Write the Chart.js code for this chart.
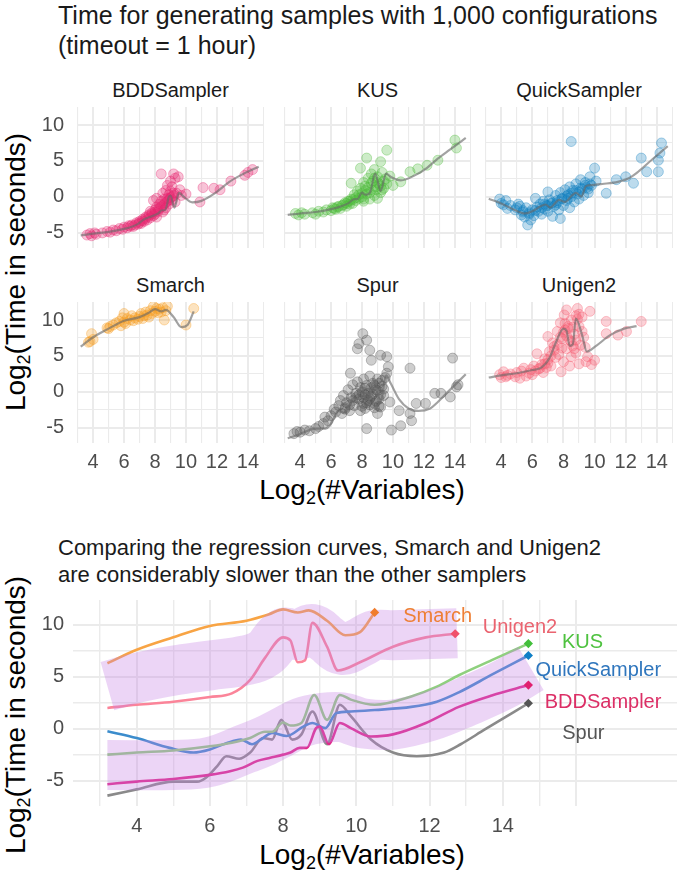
<!DOCTYPE html>
<html><head><meta charset="utf-8">
<script src="https://cdn.jsdelivr.net/npm/chart.js@4.4.1/dist/chart.umd.min.js"></script>
<style>
html,body{margin:0;padding:0;background:#fff;}
body{width:685px;height:870px;position:relative;overflow:hidden;font-family:"Liberation Sans",Arial,sans-serif;color:#1a1a1a;}
.title{position:absolute;left:58px;white-space:nowrap;color:#1a1a1a;}
.strip{position:absolute;font-size:20px;line-height:24px;text-align:center;color:#1a1a1a;white-space:nowrap;}
.axt{position:absolute;font-size:28px;line-height:32px;white-space:nowrap;color:#000;}
.axt sub{font-size:18px;vertical-align:-5px;line-height:0;}
canvas{position:absolute;}
</style></head><body>
<div class="title" style="top:0px;font-size:25px;line-height:30px;">Time for generating samples with 1,000 configurations<br>(timeout = 1 hour)</div>
<div class="title" style="top:534px;font-size:22px;line-height:27px;">Comparing the regression curves, Smarch and Unigen2<br>are considerably slower than the other samplers</div>
<div id="strips"></div>
<div class="axt" style="left:362px;top:474px;transform:translateX(-50%);">Log<sub>2</sub>(#Variables)</div>
<div class="axt" style="left:362px;top:839px;transform:translateX(-50%);">Log<sub>2</sub>(#Variables)</div>
<div class="axt" style="left:16px;top:272px;transform:translate(-50%,-50%) rotate(-90deg);">Log<sub>2</sub>(Time in seconds)</div>
<div class="axt" style="left:16px;top:715px;transform:translate(-50%,-50%) rotate(-90deg);">Log<sub>2</sub>(Time in seconds)</div>
<canvas id="p0"></canvas><canvas id="p1"></canvas><canvas id="p2"></canvas>
<canvas id="p3"></canvas><canvas id="p4"></canvas><canvas id="p5"></canvas>
<canvas id="pb"></canvas>
<script>
// ---------------- data ----------------
const samplers = ['BDDSampler','KUS','QuickSampler','Smarch','Spur','Unigen2'];

// tick / grid values
const facetGridX = [3,4,5,6,7,8,9,10,11,12,13,14,15];
const facetGridY = [-5,-2.5,0,2.5,5,7.5,10];
const bottomGridX = [3,4,5,6,7,8,9,10,11,12,13,14,15,16];
const bottomGridY = [-5,-2.5,0,2.5,5,7.5,10];
const xTickLabels = [4,6,8,10,12,14];
const yTickLabels = [-5,0,5,10];

// scatter observations (log2 #variables, log2 seconds)
const bddX = [3.6,3.8,3.9,4.1,4.2,4.6,4.9,5.1,5.3,5.5,5.7,5.9,6.0,6.2,6.3,6.5,6.6,6.8,6.9,7.0,7.1,7.2,7.3,7.4,7.5,7.6,7.7,7.8,7.9,7.9,8.0,8.0,8.1,8.1,8.2,8.3,8.3,8.4,8.4,8.5,8.5,8.6,8.6,8.7,8.7,8.8,8.8,8.9,8.9,9.0,9.0,9.1,9.1,9.2,9.2,9.3,9.3,9.4,9.5,9.6,9.7,10.0,10.9,11.1,11.8,12.2,12.9,13.8,14.0,14.3,
  6.4,6.7,7.0,7.2,7.4,7.6,7.8,8.0,8.2,8.4,8.6,8.8,9.0,9.2,8.5,8.7,8.9,9.1,7.7,8.1];
const bddY = [-5.3,-5.1,-5.4,-5.0,-5.2,-5.0,-4.8,-4.9,-4.6,-4.7,-4.4,-4.5,-4.2,-4.3,-4.0,-3.9,-4.1,-3.6,-3.8,-3.4,-3.7,-3.1,-3.4,-2.8,-3.2,-2.5,-2.9,-2.2,-2.6,-0.5,-1.8,-2.4,-0.2,-1.4,-2.0,-1.0,-1.6,3.2,-0.6,-1.2,0.5,-0.3,-1.8,0.9,-0.8,1.6,-0.2,0.3,-1.0,2.2,0.8,-0.4,1.4,3.2,0.2,-0.7,2.6,0.5,2.8,1.0,0.2,0.4,-0.7,1.3,1.2,1.0,2.2,3.0,3.4,3.8,
  -4.1,-3.9,-3.6,-3.3,-3.0,-2.7,-2.4,-2.1,-1.7,-1.4,-1.0,-0.6,-0.1,0.5,-2.1,-1.5,-0.4,0.0,-2.0,-2.8];

const kusX = [3.7,3.9,4.1,4.3,4.8,5.0,5.2,5.5,5.7,6.0,6.1,6.3,6.5,6.6,6.8,6.9,7.0,7.1,7.2,7.3,7.3,7.4,7.5,7.6,7.7,7.8,7.9,7.9,8.0,8.1,8.1,8.2,8.3,8.3,8.4,8.5,8.6,8.6,8.7,8.8,8.8,8.9,9.0,9.0,9.1,9.2,9.2,9.3,9.4,9.5,9.6,9.6,9.8,10.0,10.5,11.1,11.6,12.2,12.9,14.0,14.1,
  6.2,6.4,6.7,7.0,7.2,7.4,7.6,7.8,8.0,8.2,8.4,8.6,8.8,9.0,9.2,9.4,8.1,8.5,8.9,9.3];
const kusY = [-2.3,-2.5,-2.2,-2.4,-2.2,-2.4,-2.0,-2.1,-1.8,-1.9,-1.5,-1.7,-1.3,-1.6,-1.1,-0.8,-1.3,-0.6,-1.0,1.9,-0.3,-0.9,0.3,-0.5,0.8,-0.2,4.0,1.2,0.0,2.0,-0.6,1.5,5.4,0.4,2.6,-0.3,1.0,3.2,2.2,0.2,3.8,1.4,2.8,-0.2,1.8,4.9,0.6,3.4,1.2,2.5,6.5,1.8,2.9,1.6,2.1,3.5,3.9,4.4,5.1,7.9,6.8,
  -1.6,-1.4,-1.2,-0.9,-0.6,-0.4,-0.1,0.3,0.5,0.9,1.3,1.9,2.6,2.0,1.5,2.2,-0.3,0.6,1.0,1.0];

const quickX = [3.9,4.0,4.15,4.3,4.4,4.6,4.9,5.1,5.2,5.3,5.4,5.5,5.6,5.7,5.8,5.9,6.0,6.1,6.2,6.3,6.4,6.5,6.6,6.7,6.8,6.9,7.0,7.0,7.1,7.2,7.3,7.4,7.5,7.6,7.7,7.8,7.8,7.9,8.0,8.1,8.2,8.3,8.4,8.4,8.5,8.5,8.6,8.7,8.8,8.9,9.0,9.1,9.2,9.3,9.4,9.5,9.6,9.7,9.8,10.0,10.1,10.75,11.4,12.0,12.5,13.0,13.35,14.1,14.1,14.2,14.3,
  5.0,5.4,5.8,6.2,6.6,7.0,7.3,7.6,7.9,8.2,8.5,8.8,9.1,9.4,9.7,6.8,7.5,8.3,9.0,9.6];
const quickY = [-0.3,-0.9,-1.1,-0.5,-1.6,-1.2,-1.8,-1.0,-1.3,-2.5,-1.9,-2.8,-1.5,-3.9,-2.2,-3.2,-1.8,-2.6,-0.2,-1.4,-2.0,-1.0,-2.4,-0.6,-1.7,-1.2,0.7,-2.0,-0.4,-0.9,-2.7,-1.3,0.2,-0.8,-1.8,-3.0,0.6,-0.2,-1.2,1.0,-0.5,0.3,1.4,-1.5,7.7,0.0,0.9,-0.7,1.8,0.4,-0.3,2.4,1.1,0.2,2.0,1.3,0.6,2.8,1.6,4.0,2.2,0.5,2.4,2.8,1.9,5.4,3.5,3.5,5.1,6.1,7.5,
  -1.5,-2.1,-2.4,-1.9,-1.5,-1.2,-0.8,-0.5,-0.3,0.1,0.5,0.9,1.2,1.6,1.8,-1.0,-1.1,-0.2,0.7,1.1];

const smarchX = [3.7,3.8,3.9,4.0,4.9,5.0,5.1,5.3,5.5,5.7,5.8,5.9,6.0,6.0,6.1,6.2,6.4,6.5,6.6,6.7,6.9,7.0,7.1,7.2,7.3,7.4,7.5,7.6,7.7,7.8,7.9,8.0,8.1,8.2,8.3,8.4,8.5,8.6,8.7,8.8,10.0,10.5];
const smarchY = [6.9,7.0,8.1,7.3,8.9,8.8,9.1,9.3,9.6,9.8,9.2,10.3,10.9,9.7,9.5,10.2,10.0,10.6,9.9,10.3,10.1,10.5,10.9,10.2,10.6,11.1,10.7,10.4,11.3,10.9,11.9,11.2,11.6,11.0,11.5,11.1,11.7,10.0,11.3,11.9,9.3,11.6];

const spurX = [3.6,3.8,4.0,4.3,4.6,5.0,5.2,5.5,5.6,5.8,6.0,6.2,6.3,6.5,6.6,6.7,6.8,6.9,7.0,7.1,7.2,7.25,7.3,7.4,7.5,7.6,7.7,7.7,7.8,7.8,7.9,8.0,8.05,8.1,8.1,8.2,8.3,8.3,8.3,8.4,8.5,8.5,8.6,8.6,8.7,8.8,8.9,9.0,9.0,9.1,9.2,9.2,9.3,9.4,9.5,9.6,9.6,9.7,9.8,9.9,10.4,10.5,11.1,11.1,11.2,11.5,12.1,12.7,13.1,13.7,13.85,14.1,14.2,
  6.9,7.2,7.4,7.6,7.8,8.0,8.1,8.2,8.3,8.4,8.5,8.6,8.7,8.8,8.9,9.0,9.1,9.2,9.3,9.4,7.9,8.2,8.5,8.8,9.1];
const spurY = [-5.8,-5.5,-5.6,-5.3,-5.4,-5.1,-4.8,-4.4,-3.5,-4.0,-3.3,-2.4,-2.8,-1.9,-1.2,-3.0,-0.5,-2.2,-1.5,0.3,-2.6,2.6,-0.8,1.0,-1.9,-0.2,6.0,1.4,6.7,-1.0,0.6,-2.0,8.1,-1.6,1.8,-0.4,7.2,-5.1,0.9,-1.2,5.8,2.2,4.4,-0.6,1.2,-2.2,0.3,-3.0,1.8,-1.0,5.1,-2.1,0.8,-0.5,2.0,4.9,2.6,3.5,-1.4,-5.3,-2.6,-4.7,3.3,-3.0,-4.0,-1.6,-1.6,-0.2,-0.2,-0.7,4.7,0.7,1.0,
  -2.4,-1.8,-1.2,-0.8,-0.4,0.0,-0.8,0.5,-1.5,-0.2,-0.9,0.6,-0.3,0.9,-1.3,0.2,1.2,-0.4,1.6,0.4,-2.6,-2.3,-1.8,-1.6,-2.0];

const unigenX = [3.9,4.0,4.15,4.3,4.4,4.6,4.9,5.0,5.2,5.3,5.45,5.6,5.8,5.9,6.0,6.1,6.2,6.3,6.4,6.6,6.7,6.8,6.9,7.0,7.0,7.1,7.2,7.3,7.4,7.5,7.6,7.7,7.8,7.85,7.9,8.0,8.05,8.1,8.2,8.2,8.3,8.4,8.4,8.5,8.5,8.6,8.7,8.8,8.8,8.9,9.0,9.0,9.1,9.2,9.3,9.45,9.55,9.7,9.8,10.0,10.75,10.75,11.5,12.05,13.0,
  6.5,6.8,7.0,7.2,7.4,7.6,7.8,8.0,8.1,8.3,8.5,8.7,8.9,9.0,9.2,8.2,8.6,8.8,7.9,9.4];
const unigenY = [2.4,2.0,2.8,2.1,2.3,2.5,2.1,2.7,1.9,2.9,3.3,2.2,2.6,3.1,2.4,3.6,2.9,5.3,3.2,3.8,2.7,4.6,3.4,7.7,4.0,5.6,3.6,6.8,6.3,4.8,8.4,5.2,9.6,2.8,7.4,4.2,10.7,8.6,11.4,6.0,9.1,3.6,7.2,4.9,10.0,6.4,8.0,5.4,10.6,11.6,9.1,3.9,6.5,10.4,7.6,4.2,4.9,11.2,3.8,4.4,9.8,8.1,7.9,8.4,9.8,
  3.3,3.9,4.5,5.0,5.8,6.6,7.6,8.3,9.5,8.8,7.0,6.0,10.1,10.8,8.4,7.8,9.0,7.2,6.1,6.2];

// regression curves (loess fits)
const bddCurveX = [3.2,4,5,6,6.55,6.9,7.3,7.65,8,8.2,8.45,8.65,8.9,9.0,9.25,9.55,9.85,10.4,11,11.9,12.8,13.7,14.7];
const bddCurveY = [-5.35,-5.1,-4.85,-4.45,-4.1,-3.75,-3.1,-2.8,-2.5,-2.3,-1.85,-1.85,0.05,0.2,-1.5,0.55,0.05,-0.75,-0.55,0.55,2.1,3.2,4.2];
const kusCurveX = [3.2,4,5,6,6.6,7.1,7.5,7.7,8.0,8.2,8.5,8.85,9.2,9.55,9.85,10.5,11.5,12.2,12.8,13.7,14.7];
const kusCurveY = [-2.5,-2.3,-2.1,-1.7,-1.35,-0.9,-0.3,-0.3,0.6,0.3,0.55,3.25,0.85,3.25,2.8,2.3,3.1,4.05,5.15,6.6,8.2];
const quickCurveX = [3.2,4,4.9,5.55,6,6.45,6.85,7.15,7.45,7.7,8.1,8.55,8.8,9.15,9.45,9.85,10.5,11.5,12.2,12.8,13.7,14.7];
const quickCurveY = [-0.25,-0.9,-1.85,-2.3,-2.0,-1.4,-1.05,-1.5,-0.9,-0.4,-0.7,0.2,0.55,0.05,1.5,1.65,1.8,2.1,2.6,3.5,5.2,7.05];
const smarchCurveX = [3.2,4,5,6,7,7.6,8,8.4,8.7,9.2,9.7,10.1,10.5];
const smarchCurveY = [6.3,7.6,8.8,9.9,10.4,11.0,11.5,11.2,11.4,10.4,9.0,9.3,11.2];
const spurCurveX = [3.2,4,5,5.65,5.9,6.2,6.45,6.8,7.1,7.45,7.7,7.95,8.25,8.5,8.8,9.2,9.55,9.85,10.4,11,11.65,12.4,12.85,13.5,14.7];
const spurCurveY = [-6.45,-5.85,-5.1,-5.1,-4.7,-3.6,-2.65,-2.9,-2.3,-0.9,-1.05,0.85,-1.05,-0.55,1.65,-1.5,2.3,1.2,-1.05,-2.3,-2.65,-2.3,-1.5,-0.1,2.45];
const unigenCurveX = [3.2,4,5,6,6.6,7.1,7.5,8.0,8.2,8.4,8.6,8.8,9.2,9.5,10.1,11,11.9,12.7];
const unigenCurveY = [2.0,2.3,2.6,3.05,3.4,4.7,6.8,8.8,8.5,6.4,6.6,10.2,7.9,5.6,6.4,7.9,8.8,9.15];

// highlighted bands (centre lines of the two groups)
const slowBandX = [3.2,4,5,6,7,7.5,8,8.4,8.8,9.2,9.6,10.1,10.5,11,11.8,12.75];
const slowBandY = [4.1,4.9,5.6,6.1,6.6,7.3,9.2,9.0,9.6,8.6,7.6,8.3,9.0,9.0,9.1,9.2];
const fastBandX = [3.2,5,6,7,7.5,8,8.5,9,9.6,10.2,11,12,13,14,14.77];
const fastBandY = [-3.5,-3.5,-3.2,-1.9,-1.2,-0.3,0.6,1.0,1.1,0.5,0.4,1.2,2.6,4.2,5.8];

// direct labels in the comparison plot
const labelX = [16.74,16.18,16.61,12.22,16.2,14.47];
const labelY = [2.55,8.34,5.57,10.82,-0.48,9.77];

// ---------------- styling ----------------
const FONT = '"Liberation Sans", Arial, sans-serif';
const pointColor = {BDDSampler:[230,38,110],KUS:[77,186,56],QuickSampler:[14,126,190],Smarch:[245,155,30],Spur:[80,80,80],Unigen2:[245,90,110]};
const lineColor = {BDDSampler:'#e0288a',KUS:'#8fd07e',QuickSampler:'#3b8ccc',Smarch:'#f8a444',Spur:'#8a8a8a',Unigen2:'#fb8499'};
const endColor = {BDDSampler:'#e0206e',KUS:'#42bf3a',QuickSampler:'#0e7fc6',Smarch:'#f07c2c',Spur:'#555555',Unigen2:'#f0506a'};
const textColor = {BDDSampler:'#dc2f66',KUS:'#4ec23f',QuickSampler:'#2f76bd',Smarch:'#ee7f35',Spur:'#555555',Unigen2:'#ea6470'};
const gridColor = '#ebebeb';

const obs = {BDDSampler:[bddX,bddY],KUS:[kusX,kusY],QuickSampler:[quickX,quickY],Smarch:[smarchX,smarchY],Spur:[spurX,spurY],Unigen2:[unigenX,unigenY]};
const curves = {BDDSampler:[bddCurveX,bddCurveY],KUS:[kusCurveX,kusCurveY],QuickSampler:[quickCurveX,quickCurveY],Smarch:[smarchCurveX,smarchCurveY],Spur:[spurCurveX,spurCurveY],Unigen2:[unigenCurveX,unigenCurveY]};
const zip = (xs,ys) => xs.map((x,i)=>({x:x,y:ys[i]}));
const rgba = (c,a) => `rgba(${c[0]},${c[1]},${c[2]},${a})`;
const noPadX = sc => { sc.paddingLeft = 0; sc.paddingRight = 0; };
const noPadY = sc => { sc.paddingTop = 0; sc.paddingBottom = 0; };

// ---------------- facet panels ----------------
const colLeft = [77,284,485], colW = [187,187,188], rowTop = [107,302], panelH = 141;
const yAxisW = 47, xAxisH = 32;
const strips = document.getElementById('strips');

samplers.forEach((name, i) => {
  const col = i % 3, row = Math.floor(i / 3);
  const showY = col === 0, showX = row === 1;
  const cv = document.getElementById('p' + i);
  const left = showY ? colLeft[col] - yAxisW : colLeft[col];
  const w = colW[col] + (showY ? yAxisW : 0);
  const h = panelH + (showX ? xAxisH : 0);
  cv.width = w; cv.height = h;
  cv.style.left = left + 'px'; cv.style.top = rowTop[row] + 'px';
  const s = document.createElement('div');
  s.className = 'strip'; s.textContent = name;
  s.style.left = (colLeft[col] + colW[col]/2) + 'px';
  s.style.top = (rowTop[row] - 29) + 'px';
  s.style.transform = 'translateX(-50%)';
  strips.appendChild(s);
  const pc = pointColor[name];
  new Chart(cv, {
    type: 'scatter',
    data: { datasets: [
      { data: zip(obs[name][0], obs[name][1]), backgroundColor: rgba(pc,0.28), borderColor: rgba(pc,0.34), borderWidth: 1, pointRadius: 5, order: 2 },
      { data: zip(curves[name][0], curves[name][1]), showLine: true, borderColor: 'rgba(105,105,105,0.62)', borderWidth: 2.2, pointRadius: 0, cubicInterpolationMode: 'monotone', order: 1 }
    ]},
    options: {
      responsive: false, animation: false, devicePixelRatio: 1,
      layout: { padding: 0, autoPadding: false },
      plugins: { legend: {display:false}, tooltip: {enabled:false} },
      scales: {
        x: { type:'linear', min:2.96, max:15.04,
          afterBuildTicks: sc => { sc.ticks = facetGridX.map(v=>({value:v})); },
          afterFit: sc => { sc.height = showX ? xAxisH : 0; noPadX(sc); },
          grid: { color: gridColor, lineWidth: c => (c.tick && c.tick.value % 2 === 0) ? 2 : 1.1, drawTicks:false },
          border: { display:false },
          ticks: { display: showX, autoSkip:false, maxRotation:0, padding: 7, color:'#4d4d4d', font:{family:FONT,size:20},
                   callback: v => xTickLabels.includes(v) ? String(v) : '' } },
        y: { type:'linear', min:-7.1, max:12.5,
          afterBuildTicks: sc => { sc.ticks = facetGridY.map(v=>({value:v})); },
          afterFit: sc => { sc.width = showY ? yAxisW : 0; noPadY(sc); },
          grid: { color: gridColor, lineWidth: c => (c.tick && c.tick.value % 5 === 0) ? 2 : 1.1, drawTicks:false },
          border: { display:false },
          ticks: { display: showY, autoSkip:false, padding: 13, color:'#4d4d4d', font:{family:FONT,size:20},
                   callback: v => yTickLabels.includes(v) ? String(v) : '' } }
      }
    }
  });
});

// ---------------- comparison plot ----------------
const labelPlugin = {
  id: 'directLabels',
  afterDatasetsDraw(chart) {
    const ctx = chart.ctx, xs = chart.scales.x, ys = chart.scales.y;
    ctx.save();
    ctx.font = '20px ' + FONT;
    ctx.textAlign = 'center'; ctx.textBaseline = 'middle';
    samplers.forEach((n,i) => {
      ctx.fillStyle = textColor[n];
      ctx.fillText(n, xs.getPixelForValue(labelX[i]), ys.getPixelForValue(labelY[i]));
    });
    ctx.restore();
  }
};
const bcv = document.getElementById('pb');
bcv.width = 655; bcv.height = 240;
bcv.style.left = '30px'; bcv.style.top = '600px';
const bandStyle = { showLine:true, borderColor:'rgba(196,128,228,0.33)', borderWidth:50, borderCapStyle:'butt', borderJoinStyle:'round', tension:0.4, pointRadius:0, order:1 };
const bottomSets = [];
samplers.forEach(n => {
  bottomSets.push({ data: zip(curves[n][0], curves[n][1]), showLine:true, borderColor: lineColor[n], borderWidth:2.6, pointRadius:0, cubicInterpolationMode:'monotone', order:2 });
});
bottomSets.push(Object.assign({ data: zip(slowBandX, slowBandY) }, bandStyle));
bottomSets.push(Object.assign({ data: zip(fastBandX, fastBandY) }, bandStyle));
bottomSets.push({ data: samplers.map(n => { const c = curves[n]; return {x:c[0][c[0].length-1], y:c[1][c[1].length-1]}; }),
  pointStyle:'rectRot', pointRadius:4.6, backgroundColor: samplers.map(n=>endColor[n]), borderWidth:0, order:0 });

new Chart(bcv, {
  type:'scatter',
  data:{ datasets: bottomSets },
  plugins:[labelPlugin],
  options:{
    responsive:false, animation:false, devicePixelRatio:1,
    layout:{ padding:{left:0,top:0,right:8,bottom:0}, autoPadding:false },
    plugins:{ legend:{display:false}, tooltip:{enabled:false} },
    scales:{
      x:{ type:'linear', min:2.26, max:18.76,
        afterBuildTicks: sc => { sc.ticks = bottomGridX.map(v=>({value:v})); },
        afterFit: sc => { sc.height = 34; noPadX(sc); },
        grid:{ color:gridColor, lineWidth: c => (c.tick && c.tick.value % 2 === 0) ? 2 : 1.4, drawTicks:false },
        border:{display:false},
        ticks:{ autoSkip:false, maxRotation:0, padding:8, color:'#4d4d4d', font:{family:FONT,size:20},
                callback: v => xTickLabels.includes(v) ? String(v) : '' } },
      y:{ type:'linear', min:-7.45, max:12.4,
        afterBuildTicks: sc => { sc.ticks = bottomGridY.map(v=>({value:v})); },
        afterFit: sc => { sc.width = 43; noPadY(sc); },
        grid:{ color:gridColor, lineWidth: c => (c.tick && c.tick.value % 5 === 0) ? 2 : 1.4, drawTicks:false },
        border:{display:false},
        ticks:{ autoSkip:false, padding:9, color:'#4d4d4d', font:{family:FONT,size:20},
                callback: v => yTickLabels.includes(v) ? String(v) : '' } }
    }
  }
});
</script>
</body></html>
